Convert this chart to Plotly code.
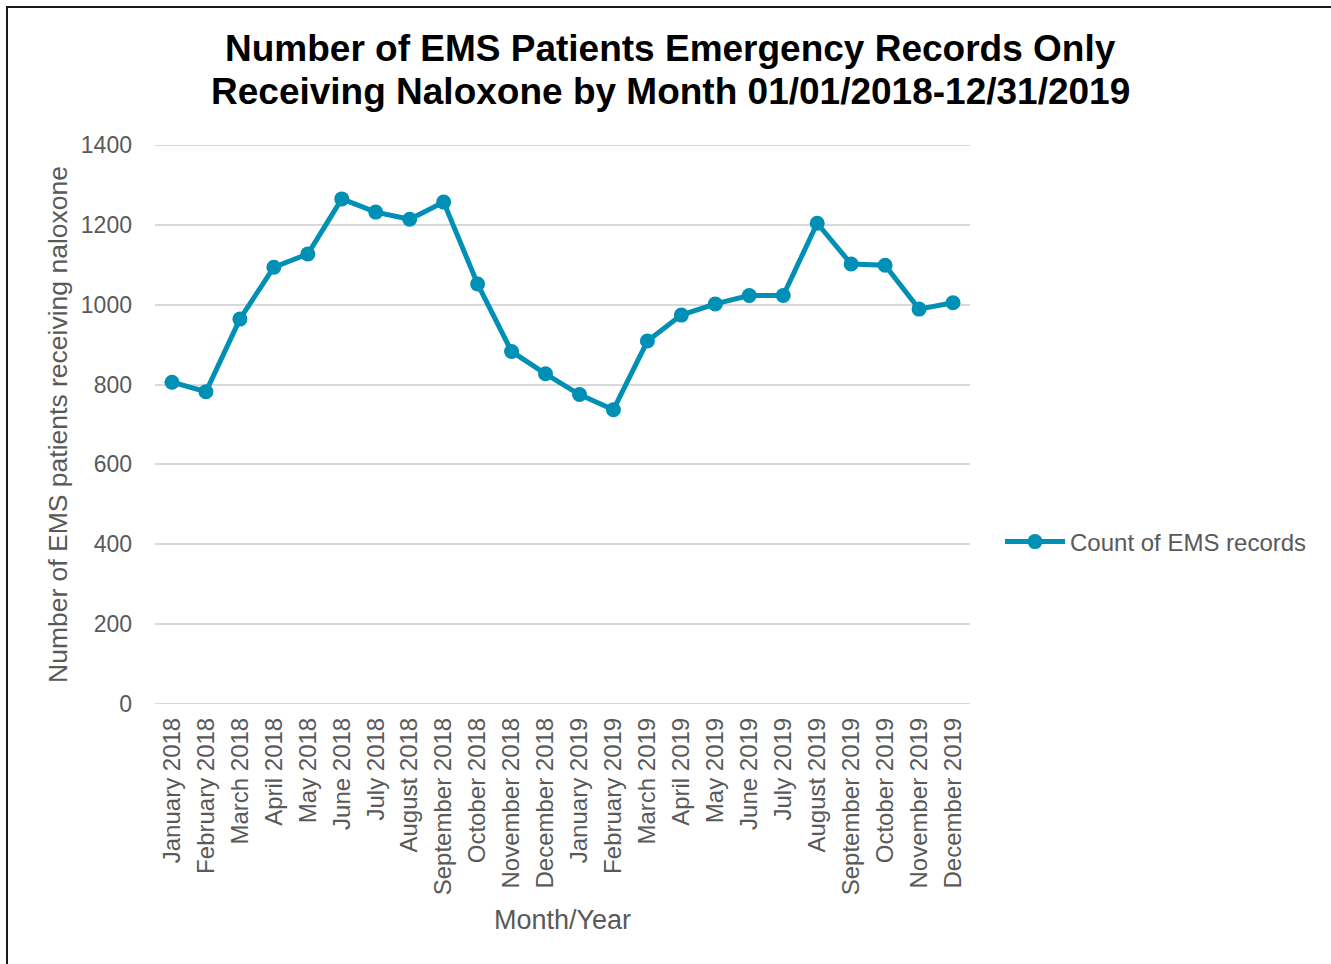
import plotly.graph_objects as go

# Monthly counts of EMS patient records with naloxone administered
months = [
    "January 2018", "February 2018", "March 2018", "April 2018", "May 2018",
    "June 2018", "July 2018", "August 2018", "September 2018", "October 2018",
    "November 2018", "December 2018", "January 2019", "February 2019",
    "March 2019", "April 2019", "May 2019", "June 2019", "July 2019",
    "August 2019", "September 2019", "October 2019", "November 2019",
    "December 2019",
]
counts = [
    806, 782, 964, 1094, 1127, 1265, 1232, 1214, 1257, 1052, 883, 827,
    775, 737, 909, 974, 1002, 1023, 1023, 1204, 1102, 1099, 989, 1005,
]
y_ticks = [0, 200, 400, 600, 800, 1000, 1200, 1400]

W, H = 1331, 964
L, R, T, B = 155, 970, 145, 704  # plot area in pixels


def px_x(x):
    return (x - L) / (R - L)


def px_y(y):
    return (B - y) / (B - T)


FONT = "Liberation Sans, Arial, sans-serif"
GREY = "#595959"
BLUE = "#008FB5"
GRID = "#D9D9D9"

fig = go.Figure()
fig.add_trace(go.Scatter(
    x=months, y=counts, mode="lines+markers", name="Count of EMS records",
    line=dict(color=BLUE, width=5),
    marker=dict(color=BLUE, size=15),
))

# gridlines at the edges of the value range (bottom axis and top line)
edge_lines = [
    dict(type="line", xref="paper", yref="y", x0=0, x1=1, y0=v, y1=v,
         layer="below", line=dict(color=GRID, width=2))
    for v in (y_ticks[0], y_ticks[-1])
]

fig.update_layout(
    width=W, height=H,
    margin=dict(l=L, r=W - R, t=T, b=H - B, pad=0),
    paper_bgcolor="white", plot_bgcolor="white",
    font=dict(family=FONT, color=GREY, size=23),
    showlegend=True,
    legend=dict(
        x=px_x(1000), y=px_y(542), xanchor="left", yanchor="middle",
        font=dict(size=24, color=GREY), itemwidth=60,
        bgcolor="rgba(0,0,0,0)",
    ),
    xaxis=dict(
        type="category", range=[-0.5, len(months) - 0.5],
        tickangle=-90, showgrid=False, zeroline=False, showline=False,
        ticks="", tickfont=dict(size=24, color=GREY), ticklabelstandoff=8,
    ),
    yaxis=dict(
        range=[0, 1400], tickvals=y_ticks, showgrid=True,
        gridcolor=GRID, gridwidth=1.5, zeroline=False, showline=False,
        ticks="", tickfont=dict(size=23, color=GREY), ticklabelstandoff=22,
    ),
    annotations=[
        dict(text="<b>Number of EMS Patients Emergency Records Only</b>",
             x=px_x(670), y=px_y(48), xref="paper", yref="paper",
             showarrow=False, xanchor="center", yanchor="middle",
             font=dict(size=37, color="black", family=FONT)),
        dict(text="<b>Receiving Naloxone by Month 01/01/2018-12/31/2019</b>",
             x=px_x(670), y=px_y(92), xref="paper", yref="paper",
             showarrow=False, xanchor="center", yanchor="middle",
             font=dict(size=37, color="black", family=FONT)),
        dict(text="Number of EMS patients receiving naloxone",
             x=px_x(58), y=px_y(425), xref="paper", yref="paper",
             showarrow=False, textangle=-90, xanchor="center", yanchor="middle",
             font=dict(size=26.5, color=GREY, family=FONT)),
        dict(text="Month/Year",
             x=px_x(562), y=px_y(920), xref="paper", yref="paper",
             showarrow=False, xanchor="center", yanchor="middle",
             font=dict(size=27, color=GREY, family=FONT)),
    ],
    shapes=edge_lines + [
        dict(type="line", xref="paper", yref="paper",
             x0=px_x(7), x1=px_x(W + 5), y0=px_y(7), y1=px_y(7),
             line=dict(color="#1A1A1A", width=2)),
        dict(type="line", xref="paper", yref="paper",
             x0=px_x(7), x1=px_x(7), y0=px_y(6), y1=px_y(H + 5),
             line=dict(color="#1A1A1A", width=2)),
    ],
)

fig.write_html("out.html")
